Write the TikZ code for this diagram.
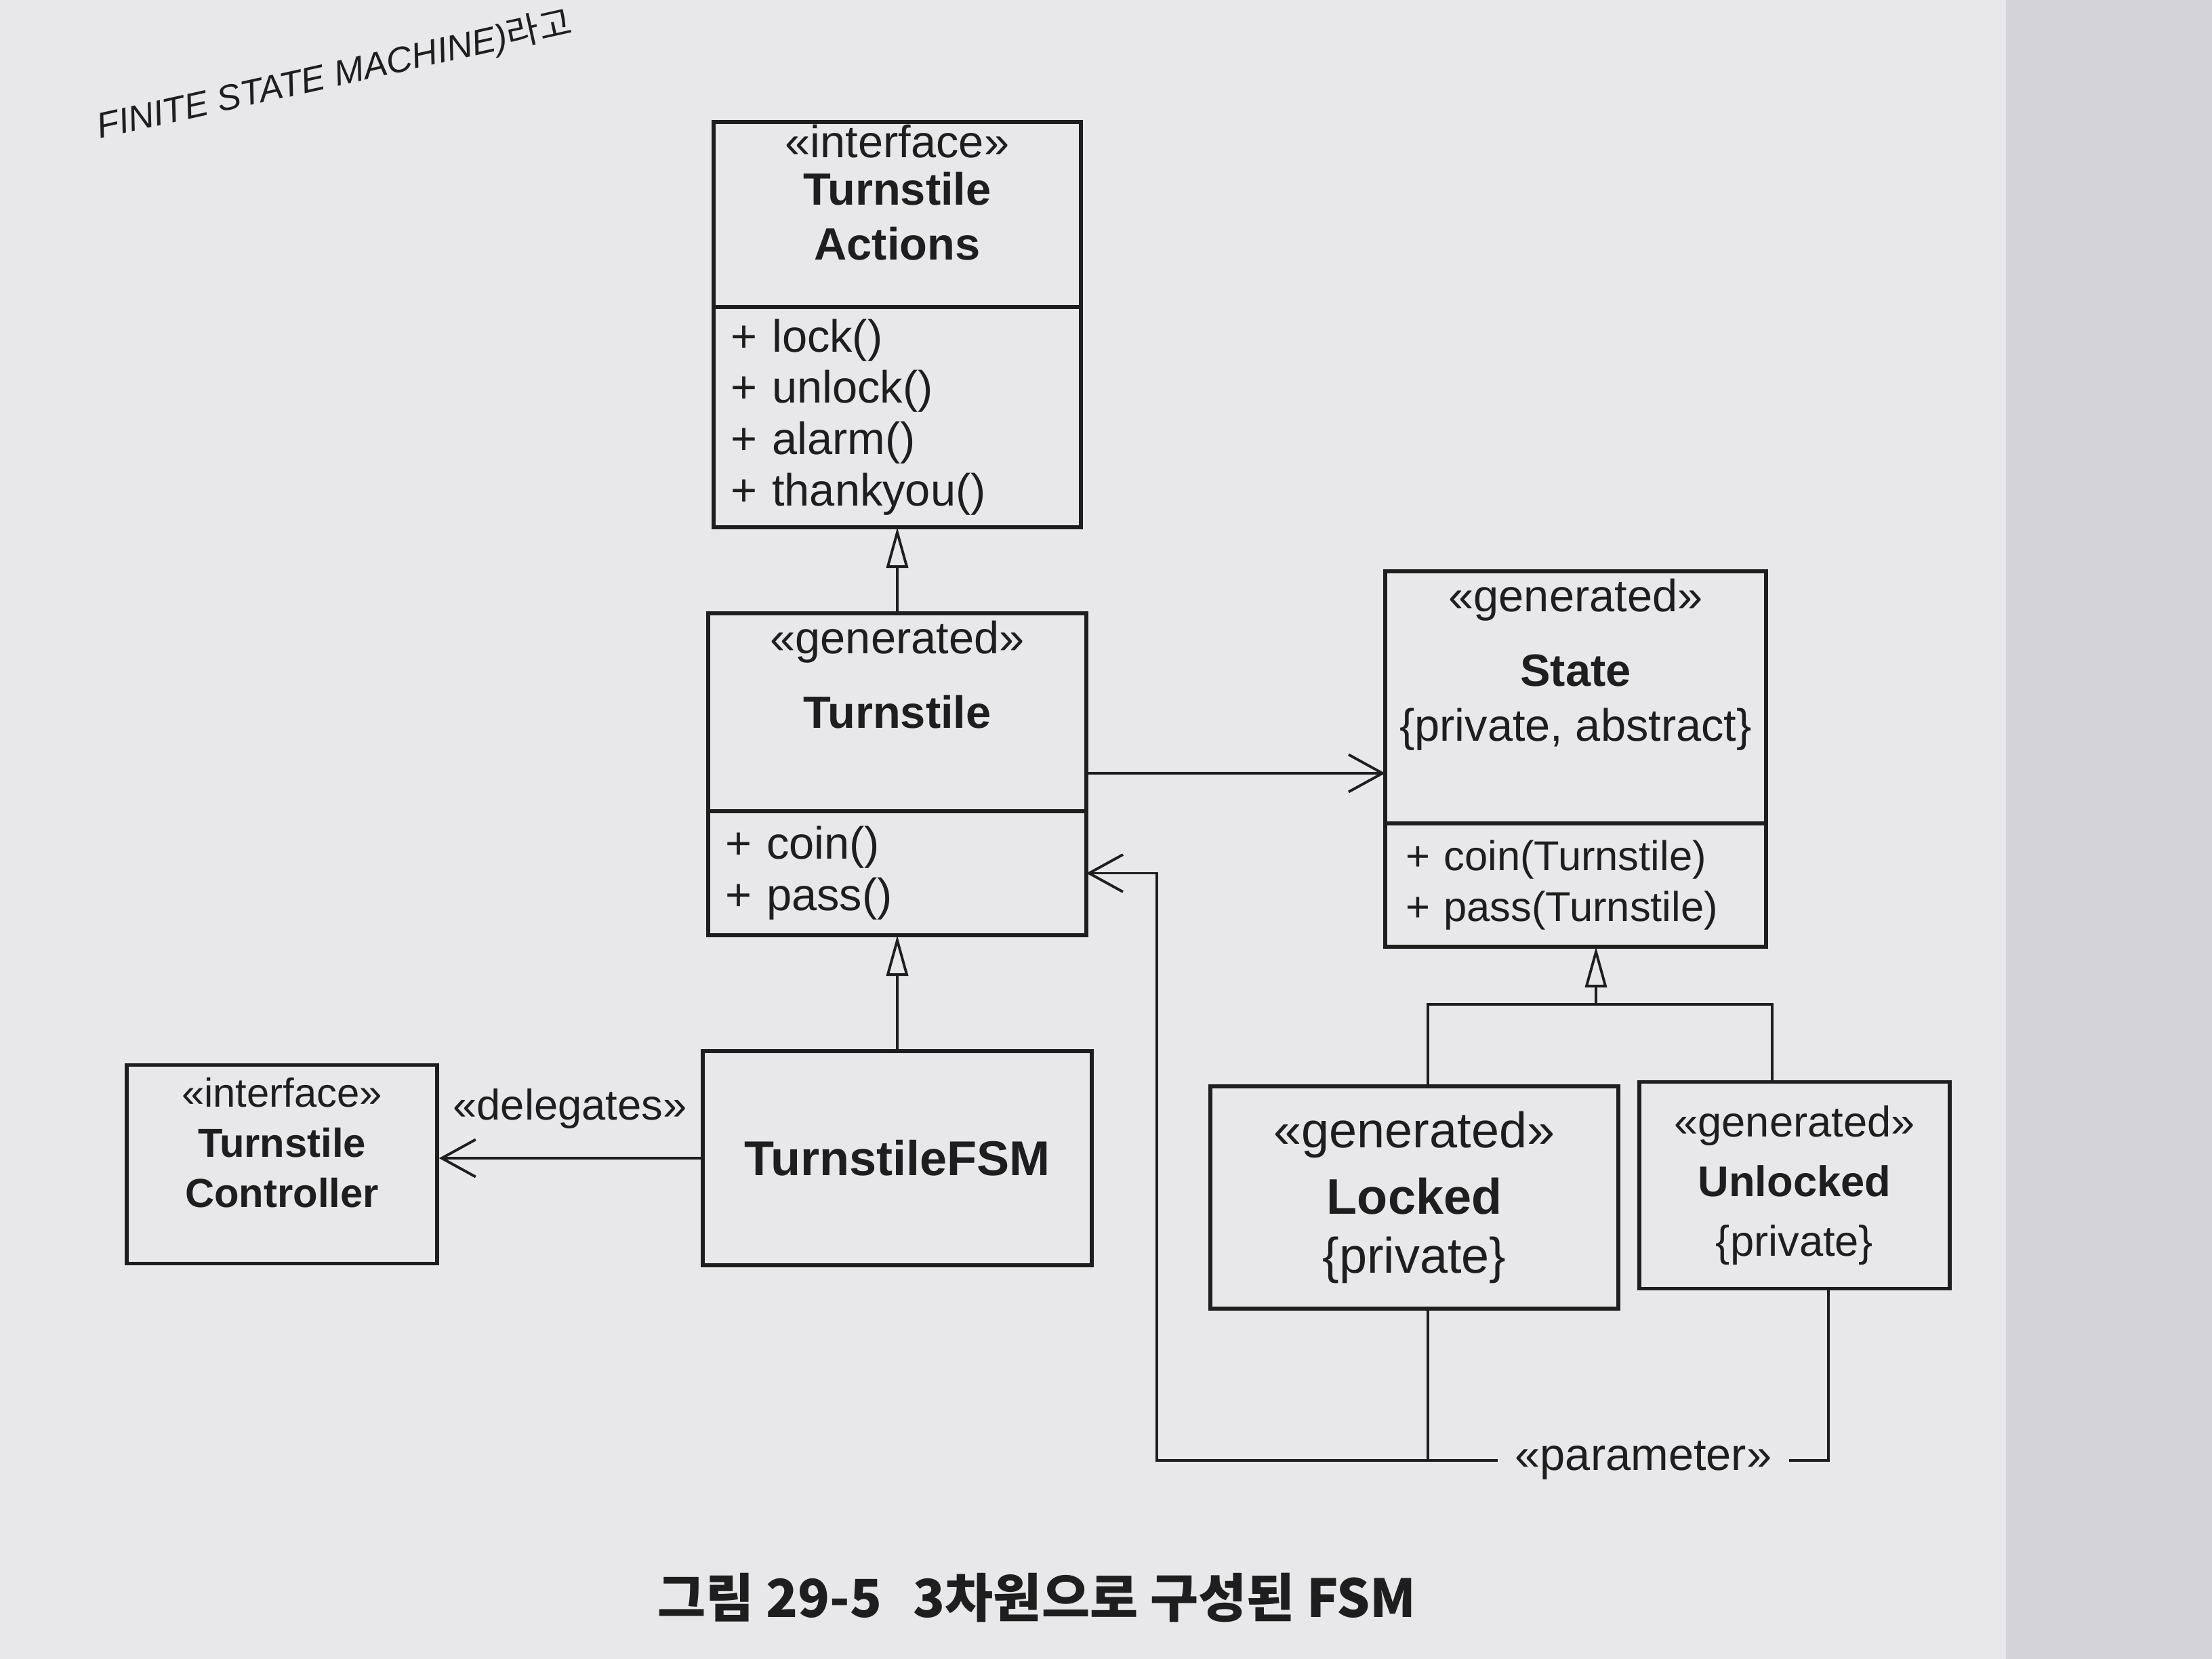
\documentclass[tikz,border=0pt]{standalone}
\usepackage{fontspec}
\setmainfont{Liberation Sans}
\newfontfamily\krfont{Noto Sans CJK KR}
\usetikzlibrary{arrows.meta,positioning,calc}
\usepackage{xcolor}
\definecolor{ink}{RGB}{30,30,30}
\definecolor{paper}{RGB}{232,232,234}
\definecolor{paperedge}{RGB}{212,212,216}

\begin{document}
\begin{tikzpicture}[auto]
\tikzstyle{box} = [rectangle, draw=ink, line width=1.6pt, inner sep=0pt, outer sep=0pt]
\tikzstyle{title} = [text=ink, align=center, inner sep=0pt, font=\fontsize{19}{23}\selectfont]
\tikzstyle{ops} = [rectangle, draw=ink, line width=1.6pt, text=ink, align=left, outer sep=0pt,
inner xsep=2.5mm, inner ysep=0pt, font=\fontsize{19}{21.5}\selectfont]
\tikzstyle{cls} = [rectangle, draw=ink, line width=1.6pt, text=ink, align=center]
\tikzstyle{line} = [draw=ink, line width=1.1pt]
\tikzstyle{inherit} = [line, -{Triangle[open, length=6mm, width=3.2mm]}]
\tikzstyle{assoc} = [line, -{Straight Barb[length=5mm, width=5.5mm]}]

% page
\fill[paper] (0,0) rectangle (32.64,-24.48);
\fill[paperedge] (29.6,0) rectangle (32.64,-24.48);
\useasboundingbox (0,0) rectangle (32.64,-24.48);

\node[anchor=base west, rotate=12.5, text=ink, inner sep=0pt,
font=\fontsize{15}{18}\selectfont] (intro) at (1.47,-2.05)
{\itshape FINITE STATE MACHINE)\upshape\krfont 라고};

% TurnstileActions
\node[box, minimum width=5.42cm, minimum height=2.73cm, anchor=north] (ahead) at (13.24,-1.80) {};
\node[title, below=0.3mm of ahead.north] (atitle) {«interface»\\[-1mm] \textbf{Turnstile}\\ \textbf{Actions}};
\node[ops, text width=4.92cm, minimum height=3.25cm, anchor=north] (aops) at (ahead.south)
{+ lock()\\ + unlock()\\ + alarm()\\ + thankyou()};

% Turnstile
\node[box, minimum width=5.58cm, minimum height=2.92cm, anchor=north] (thead) at (13.24,-9.05) {};
\node[title, below=1mm of thead.north] (ttitle) {«generated»\\[3mm] \textbf{Turnstile}};
\node[ops, text width=5.08cm, minimum height=1.83cm, anchor=north] (tops) at (thead.south)
{+ coin()\\ + pass()};

% State
\node[box, minimum width=5.62cm, minimum height=3.72cm, anchor=north] (shead) at (23.25,-8.43) {};
\node[title, below=1mm of shead.north] (stitle) {«generated»\\[3mm] \textbf{State}\\ \{private, abstract\}};
\node[ops, text width=5.02cm, inner xsep=3mm, minimum height=1.82cm, anchor=north,
font=\fontsize{17.5}{21.5}\selectfont] (sops) at (shead.south)
{+ coin(Turnstile)\\ + pass(Turnstile)};

% bottom row
\node[cls, minimum width=4.58cm, minimum height=2.93cm, font=\fontsize{17}{21}\selectfont] (ctrl) at (4.16,-17.18)
{«interface»\\ \textbf{Turnstile}\\ \textbf{Controller}\\[-1mm]};
\node[cls, minimum width=5.74cm, minimum height=3.16cm, font=\bfseries\fontsize{20.5}{24}\selectfont] (fsm) at (13.24,-17.09)
{TurnstileFSM};
\node[cls, minimum width=6.02cm, minimum height=3.28cm, font=\fontsize{21}{25}\selectfont] (locked) at (20.87,-17.67)
{«generated»\\[1mm] \textbf{Locked}\\ \{private\}};
\node[cls, minimum width=4.58cm, minimum height=3.05cm, font=\fontsize{18}{25}\selectfont] (unlocked) at (26.48,-17.49)
{«generated»\\ \textbf{Unlocked}\\ \{private\}};

\node[text=ink, inner sep=2.5mm, font=\fontsize{19}{23}\selectfont] (param) at (24.25,-21.55) {«parameter»};
\coordinate (fork) at ($(sops.south)+(0.3,-0.85)$);

% connectors
\path[inherit] (thead.north) -- (aops.south);
\path[inherit] (fsm.north) -- (tops.south);
\path[inherit] (fork) -- (fork |- sops.south);
\path[line] ([xshift=2mm]locked.north) |- (fork) -| ([xshift=-3.3mm]unlocked.north);
\path[assoc] ([yshift=-9mm]thead.east) -- ([yshift=-9mm]thead.east -| shead.west);
\path[assoc] (fsm.west) -- node[above=3mm, text=ink, font=\fontsize{18}{22}\selectfont] (deleg) {«delegates»} (fsm.west -| ctrl.east);
\path[assoc] (param.west) -| ([xshift=10.4mm]tops.east) -- (tops.east);
\path[line] ([xshift=2mm]locked.south) -- ([xshift=2mm]locked.south |- param.west);
\path[line] (param.east) -| ([xshift=5mm]unlocked.south);

\node[text=ink, font=\krfont\bfseries\fontsize{22}{26}\selectfont] (caption) at (15.30,-23.58)
{그림 29-5\hspace{0.6em}3차원으로 구성된 FSM};
\end{tikzpicture}
\end{document}
